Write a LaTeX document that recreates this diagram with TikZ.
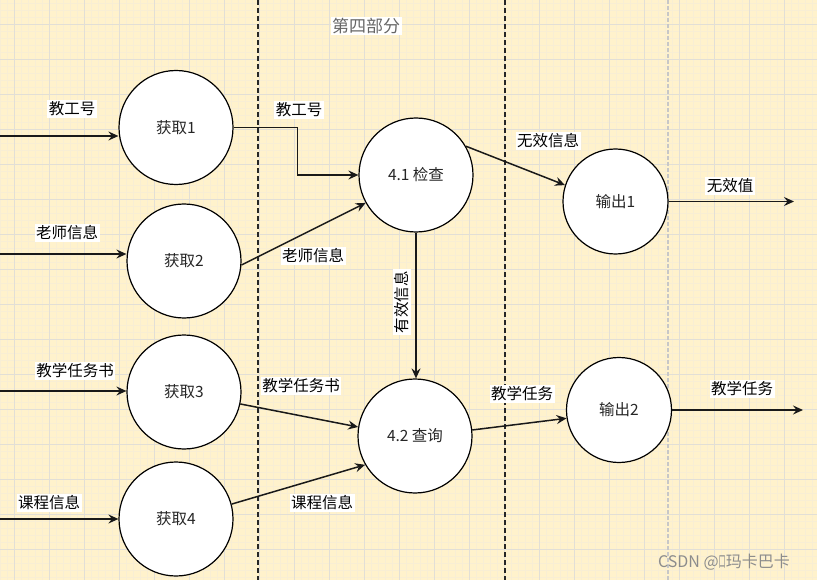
\documentclass[tikz,border=0pt]{standalone}
\usepackage{fontspec}
\setmainfont{Noto Sans CJK SC}
\usetikzlibrary{arrows.meta,positioning}
\definecolor{paper}{HTML}{FFF2CC}
\definecolor{minorgrid}{HTML}{F8EED4}
\definecolor{majorgrid}{HTML}{E2DFD6}

\begin{document}
\begin{tikzpicture}[x=1pt, y=-1pt,
		every node/.style={font=\fontsize{15.5}{18}\selectfont},
		proc/.style={draw, circle, fill=white, line width=1.2pt, minimum size=114pt, inner sep=0pt, text=black!85},
		outproc/.style={proc, minimum size=105pt},
		flow/.style={-{Stealth[length=10pt, width=9pt, inset=3.5pt]}, line width=1.5pt, black!90},
		lbl/.style={fill=white, inner sep=1.5pt},
		lane/.style={dash pattern=on 5pt off 3pt, line width=1.5pt}]
		\useasboundingbox (0,0) rectangle (817,580);
		
		% grid paper
		\fill[paper] (0,0) rectangle (817,580);
		\foreach \gx in {0,7,...,817} \draw[minorgrid, line width=0.8pt] (\gx,0) -- (\gx,580);
		\foreach \gy in {3,10,...,580} \draw[minorgrid, line width=0.8pt] (0,\gy) -- (817,\gy);
		\foreach \gx in {14,49,...,817} \draw[majorgrid, line width=0.9pt] (\gx,0) -- (\gx,580);
		\foreach \gy in {24,59,...,580} \draw[majorgrid, line width=0.9pt] (0,\gy) -- (817,\gy);
		
		\draw[lane, black!85] (258,0) -- (258,580);
		\draw[lane, black!85] (505,0) -- (505,580);
		\draw[lane, black!22, line width=1.8pt, dash pattern=on 4pt off 2pt] (668,0) -- (668,580);
		
		\node[lbl, text=black!60, font=\fontsize{17}{19}\selectfont] (title) at (366,26) {第四部分};
		
		\node[proc] (get1) at (176,127.5) {获取1};
		\node[proc] (get2) at (184,261) {获取2};
		\node[proc] (get3) at (184,392) {获取3};
		\node[proc] (get4) at (176,519) {获取4};
		
		\node[proc] (check) at (416,175) {4.1 检查};
		\node[proc] (query) at (415,436) {4.2 查询};
		
		\node[outproc] (out1) at (615.5,201.5) {输出1};
		\node[outproc] (out2) at (619,410) {输出2};
		
		\coordinate (in1) at (0,136);
		\coordinate (in2) at (0,254);
		\coordinate (in3) at (0,391);
		\coordinate (in4) at (0,519);
		\coordinate (end1) at (794,201.5);
		\coordinate (end2) at (803,410);
		
		\draw[flow] (in1) -- (get1.west |- in1);
		\draw[flow] (in2) -- (get2.west |- in2);
		\draw[flow] (in3) -- (get3.west |- in3);
		\draw[flow] (in4) -- (get4.west |- in4);
		
		\draw[flow] (get1.east) -- ++(64,0) |- (check.west);
		\draw[flow] (get2.-4) -- (check.209);
		\draw[flow] (check.30) -- (out1.162);
		\draw[flow] (out1.east) -- (end1);
		\draw[flow] (check.south) -- (check.south |- query.north);
		\draw[flow] (get3.-12) -- (query.171);
		\draw[flow] (get4.15) -- (query.210);
		\draw[flow] (query.6) -- (out2.189);
		\draw[flow] (out2.east) -- (end2);
		
		\node[lbl] at (72,109) {教工号};
		\node[lbl] at (299,110) {教工号};
		\node[lbl] at (67,233) {老师信息};
		\node[lbl] at (313,256) {老师信息};
		\node[lbl] at (548,141) {无效信息};
		\node[lbl] at (730,186) {无效值};
		\node[lbl, rotate=90] at (402,302) {有效信息};
		\node[lbl] at (75,371) {教学任务书};
		\node[lbl] at (301,386) {教学任务书};
		\node[lbl] at (49,503) {课程信息};
		\node[lbl] at (322,503) {课程信息};
		\node[lbl] at (522,394) {教学任务};
		\node[lbl] at (742,389) {教学任务};
		
		\node[text=black!45, font=\fontsize{16}{18}\selectfont] (mark) at (724,562) {CSDN @\scalebox{0.45}[1]{口}玛卡巴卡};
		
\end{tikzpicture}
\end{document}
